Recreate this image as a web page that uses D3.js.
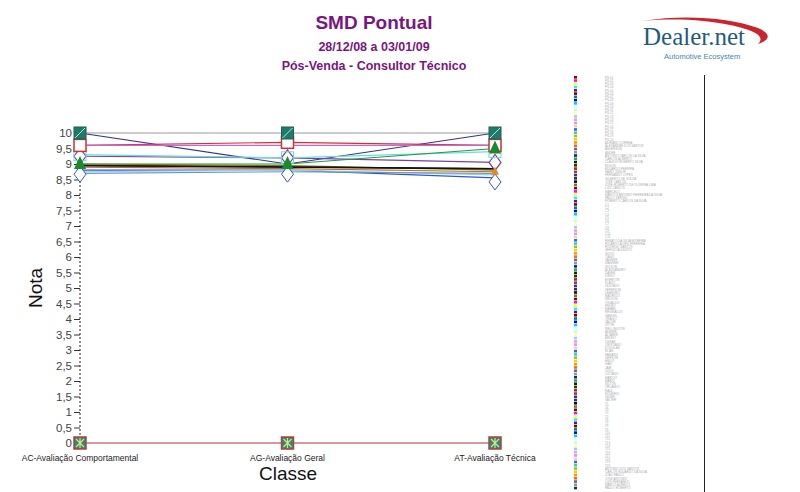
<!DOCTYPE html>
<html><head><meta charset="utf-8">
<script src="https://cdn.jsdelivr.net/npm/d3@7"></script>
<style>body{margin:0;background:#fff}svg{display:block;font-family:"Liberation Sans",Arial,sans-serif}</style>
</head><body><svg id="c" width="800" height="492"></svg>
<script>
const categories = ["AC-Avaliação Comportamental","AG-Avaliação Geral","AT-Avaliação Técnica"];
const yTicks = [0,0.5,1,1.5,2,2.5,3,3.5,4,4.5,5,5.5,6,6.5,7,7.5,8,8.5,9,9.5,10];
const seriesNames = ["S01","S02","S03","S04","S05","S06","S07","S08","S09","S10","S11","S12","S13"];
const seriesValues = [
  [10,10,10],
  [10,9.0,10],
  [9.6,9.7,9.6],
  [9.6,9.6,9.6],
  [9.25,9.2,9.05],
  [9.3,9.2,9.4],
  [9.0,9.0,9.5],
  [9.0,8.95,8.8],
  [8.95,8.9,8.85],
  [8.9,8.85,8.75],
  [8.8,8.8,8.55],
  [8.75,8.8,8.65],
  [8.7,8.75,8.7]
];
const seriesColors = ["#999999","#333399","#cc3333","#cc66cc","#7f3f9f","#66dddd","#229944","#808000","#111111","#b8702a","#3355cc","#99ccee","#6699bb"];
const zeroValues = [0,0,0];
const legendNames = ["PS-01","PS-02","PS-03","PS-04","PS-05","PS-06","PS-07","PS-08","PS-09","PS-10","PS-11","PS-12","PS-13","PS-14","PS-15","PS-16","PS-17","PS-18","PS-19","PS-20",
"ADRIANO CORREA","ALEXANDRE DOS SANTOS","ANDERSON","ANDRE","ANTONIO CARLOS DA SILVA","CARLOS ALBERTO","CLAUDIO ROBERTO SILVA","EDSON","EDUARDO PEREIRA","FABIO JUNIOR",
"FERNANDO LOPES","GILBERTO DE SOUZA","JOSE CARLOS","JOSE ROBERTO DE OLIVEIRA LIMA","LUIZ CARLOS","MARCELO","MARCOS ANTONIO FERREIRA DA SILVA","PAULO SERGIO","ROBERTO CARLOS DA SILVA",
"C1","C2","C3","C4","C5","C6","C7","C8","C9","C10","C11",
"RENATO DA SILVA MOREIRA","RICARDO ALVES FERREIRA","RODRIGO SANTOS","SERGIO AUGUSTO","SILVIO","TIAGO","VAGNER","WAGNER","WILSON","ALESSANDRO",
"DANIEL","DIEGO","EVERTON","FLAVIO","GUSTAVO","JEFERSON","LEANDRO","MAURICIO","NELSON","OSVALDO",
"PEDRO","RAFAEL","REGINALDO","SAMUEL","THIAGO","VALDIR","VITOR","WELLINGTON","ADEMIR","ALTAMIR",
"BRUNO","CESAR","CRISTIANO","DOUGLAS","ELIAS","FABIANO","GERSON","HELIO","IVAN","JAIR",
"JULIO","LUCIANO","MARCIO","MARIO","NILTON","ORLANDO","RAUL","ROGERIO","SIDNEI","VALTER",
"T1","T2","T3","T4","T5","T6","T7","T8","T9","T10","T11","T12","T13","T14","T15","T16","T17","T18","T19","T20",
"ANTONIO DOS SANTOS","CARLOS EDUARDO DA SILVA","JOAO PAULO","JOSE ANTONIO","LUIS FERNANDO","MARCO AURELIO","PAULO ROBERTO"];
const palette = ["#8b0000","#ff00ff","#ffff00","#00ffff","#800080","#800000","#008080","#0000ff","#00ccff","#ccffff","#ccffcc","#ffff99","#99ccff","#ff99cc","#cc99ff","#ffcc99","#3366ff","#33cccc","#99cc00","#ffcc00","#ff9900","#ff6600","#666699","#969696","#003366","#339966","#003300","#333300","#993300","#993366","#333399","#333333","#000080","#808000"];

const svg = d3.select("#c");
const x = d3.scalePoint().domain(categories).range([80,495]);
const y = d3.scaleLinear().domain([0,10]).range([443,133]);

// Titles
const purple = "#7a1582";
svg.append("text").attr("x",374).attr("y",29).attr("text-anchor","middle").attr("font-size",19).attr("font-weight","bold").attr("fill",purple).text("SMD Pontual");
svg.append("text").attr("x",374).attr("y",51).attr("text-anchor","middle").attr("font-size",12.5).attr("font-weight","bold").attr("fill",purple).text("28/12/08 a 03/01/09");
svg.append("text").attr("x",374).attr("y",70).attr("text-anchor","middle").attr("font-size",12.5).attr("font-weight","bold").attr("fill",purple).text("Pós-Venda - Consultor Técnico");

// Logo
svg.append("path").attr("d","M643,21 C685,14 730,18 758,28 C772,34 770,40 758,44 C765,37 758,31 730,25 C705,20 675,18 643,21 Z").attr("fill","#c8262c");
svg.append("text").attr("x",643).attr("y",45).attr("font-family","'Liberation Serif','DejaVu Serif',serif").attr("font-size",25).attr("fill","#1f5b7f").text("Dealer.net");
svg.append("text").attr("x",664).attr("y",59).attr("font-size",7.5).attr("fill","#4a86b0").text("Automotive Ecosystem");

// Y axis
const yAxis = d3.axisLeft(y).tickValues(yTicks).tickSize(6).tickFormat(d => String(d).replace(".",","));
const ga = svg.append("g").attr("transform","translate(80,0)").call(yAxis);
ga.select(".domain").remove();
ga.selectAll(".tick line").attr("stroke","#333");
ga.selectAll(".tick text").attr("font-size",11.5).attr("fill","#444").attr("font-family","'Liberation Sans',Arial,sans-serif").attr("x",-8);
svg.append("line").attr("x1",80).attr("x2",80).attr("y1",y(10)).attr("y2",y(0)).attr("stroke","#222").attr("stroke-dasharray","2,2");

// Axis titles
svg.append("text").attr("transform","translate(42,288) rotate(-90)").attr("text-anchor","middle").attr("font-size",19).attr("fill","#111").text("Nota");
svg.append("text").attr("x",288).attr("y",480).attr("text-anchor","middle").attr("font-size",19).attr("fill","#111").text("Classe");
svg.selectAll(".xl").data(categories).enter().append("text").attr("class","xl")
  .attr("x",d=>x(d)).attr("y",461).attr("text-anchor","middle").attr("font-size",8.5).attr("fill","#222").text(d=>d);

// Zero line
const line = d3.line().x((v,i)=>x(categories[i])).y(v=>y(v));
svg.append("path").attr("d",line(zeroValues)).attr("fill","none").attr("stroke","#d49a9a").attr("stroke-width",2);

// Series lines
seriesValues.forEach((vals,k)=>{
  svg.append("path").attr("d",line(vals)).attr("fill","none").attr("stroke",seriesColors[k]).attr("stroke-width",1.2);
});
svg.append("path").attr("d",line(seriesValues[8])).attr("fill","none").attr("stroke",seriesColors[8]).attr("stroke-width",1.5);

// Markers
const gm = svg.append("g");
categories.forEach((c,i)=>{
  const cx = x(c);
  gm.append("rect").attr("x",cx-6).attr("y",y(0)-6).attr("width",12).attr("height",12).attr("fill","#2a8a80").attr("stroke","#b04040").attr("stroke-width",1.5);
  gm.append("path").attr("d",`M${cx-4},${y(0)-4}L${cx+4},${y(0)+4}M${cx-4},${y(0)+4}L${cx+4},${y(0)-4}M${cx},${y(0)-5}L${cx},${y(0)+5}`).attr("stroke","#e8e070").attr("stroke-width",1.2);
  const vb = seriesValues[10][i];
  gm.append("path").attr("d",`M${cx},${y(vb)-4}L${cx+6},${y(vb)+4}L${cx},${y(vb)+12}L${cx-6},${y(vb)+4}Z`).attr("fill","#fff").attr("stroke","#3355cc").attr("stroke-width",1);
  const vp = seriesValues[4][i];
  gm.append("path").attr("d",`M${cx},${y(vp)-8}L${cx+6},${y(vp)}L${cx},${y(vp)+8}L${cx-6},${y(vp)}Z`).attr("fill","#fff").attr("stroke","#7f3f9f").attr("stroke-width",1.2);
  const vc = seriesValues[5][i];
  gm.append("rect").attr("x",cx-6).attr("y",y(vc)-6).attr("width",12).attr("height",12).attr("fill","none").attr("stroke","#66dddd").attr("stroke-width",1);
  const vr = seriesValues[2][i];
  gm.append("rect").attr("x",cx-6).attr("y",y(vr)-6).attr("width",12).attr("height",12).attr("fill","#fff").attr("stroke","#cc3333").attr("stroke-width",1.5);
  const vg = seriesValues[6][i];
  gm.append("path").attr("d",`M${cx},${y(vg)-8}L${cx+6},${y(vg)+5}L${cx-6},${y(vg)+5}Z`).attr("fill","#1a8a2a");
  const vt = seriesValues[0][i];
  gm.append("rect").attr("x",cx-6).attr("y",y(vt)-6).attr("width",12).attr("height",12).attr("fill","#1f7a6a").attr("stroke","#2a5a55").attr("stroke-width",1);
  gm.append("path").attr("d",`M${cx-5},${y(vt)+5}L${cx+5},${y(vt)-5}`).attr("stroke","#8fd").attr("stroke-width",1);
});
{
  const cx = x(categories[2]), v = seriesValues[9][2];
  gm.append("path").attr("d",`M${cx},${y(v)-5}L${cx+4},${y(v)+3}L${cx-4},${y(v)+3}Z`).attr("fill","#e08a20");
}

// Legend
svg.append("line").attr("x1",704.5).attr("x2",704.5).attr("y1",75).attr("y2",492).attr("stroke","#222").attr("stroke-width",1);
const lg = svg.append("g");
const step = 3.26;
lg.selectAll("rect").data(legendNames).enter().append("rect")
  .attr("x",574).attr("y",(d,i)=>76+i*step).attr("width",3).attr("height",2.6)
  .attr("fill",(d,i)=>palette[i%palette.length]);
lg.selectAll("text").data(legendNames).enter().append("text")
  .attr("x",605).attr("y",(d,i)=>78.6+i*step).attr("font-size",3).attr("fill","#aaa").text(d=>d);
</script></body></html>
